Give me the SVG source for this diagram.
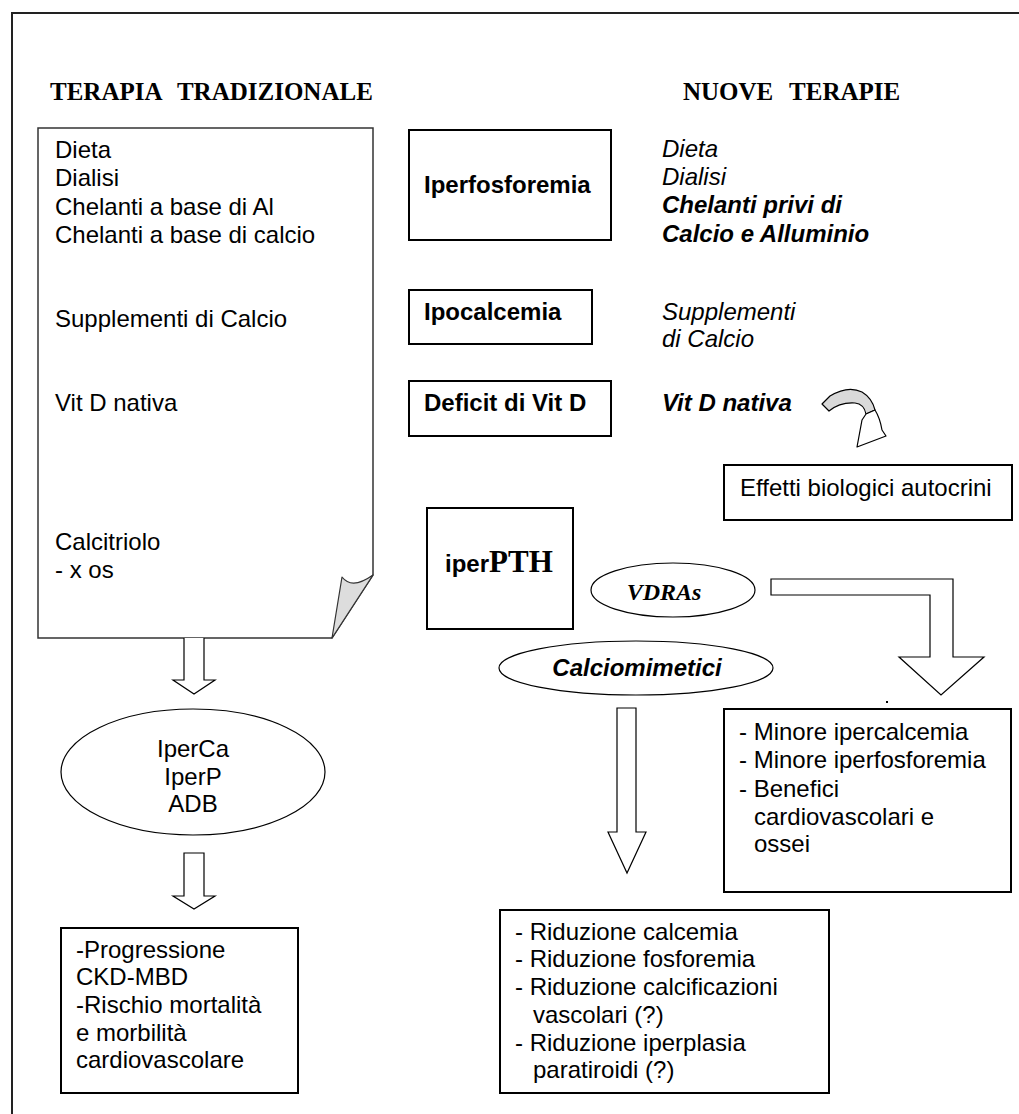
<svg xmlns="http://www.w3.org/2000/svg" width="1019" height="1114" viewBox="0 0 1019 1114">
<style>
.t{font-family:"Liberation Sans",Arial,sans-serif;font-size:24px;fill:#000}
.b{font-weight:bold}
.i{font-style:italic}
.h{font-family:"Liberation Serif","Times New Roman",serif;font-size:25px;font-weight:bold;word-spacing:10px;fill:#000}
.box{fill:#fff;stroke:#000;stroke-width:2}
.ell{fill:#fff;stroke:#000;stroke-width:1.2}
.blk{fill:#fff;stroke:#000;stroke-width:1.2;stroke-linejoin:miter}
</style>
<rect width="1019" height="1114" fill="#fff"/>
<g id="frame">
<path d="M12,1114 L12,13 L1019,13" fill="none" stroke="#222" stroke-width="2"/>
</g>
<g id="titles">
<text class="h" x="50" y="100">TERAPIA TRADIZIONALE</text>
<text class="h" x="683" y="100">NUOVE TERAPIE</text>
</g>
<g id="doc">
<path d="M38,128 L373,128 L373,575 L332,638 L38,638 Z" fill="#fff" stroke="#333" stroke-width="1.5"/>
<path d="M342,577 Q352,590 373,575 L332,638 Z" fill="#ddd" stroke="#333" stroke-width="1.2" stroke-linejoin="round"/>
<text class="t" x="55" y="158">Dieta</text>
<text class="t" x="55" y="186">Dialisi</text>
<text class="t" x="55" y="215">Chelanti a base di Al</text>
<text class="t" x="55" y="243">Chelanti a base di calcio</text>
<text class="t" x="55" y="327">Supplementi di Calcio</text>
<text class="t" x="55" y="411">Vit D nativa</text>
<text class="t" x="55" y="550">Calcitriolo</text>
<text class="t" x="55" y="578">- x os</text>
</g>
<g id="iperfosforemia">
<rect class="box" x="409" y="130" width="202" height="110"/>
<text class="t b" x="424" y="193">Iperfosforemia</text>
</g>
<g id="ipocalcemia">
<rect class="box" x="409" y="290" width="183" height="54"/>
<text class="t b" x="424" y="320">Ipocalcemia</text>
</g>
<g id="deficit">
<rect class="box" x="409" y="381" width="202" height="55"/>
<text class="t b" x="424" y="411">Deficit di Vit D</text>
</g>
<g id="nuove-fosforo">
<text class="t i" x="662" y="157">Dieta</text>
<text class="t i" x="662" y="185">Dialisi</text>
<text class="t i b" x="662" y="213">Chelanti privi di</text>
<text class="t i b" x="662" y="242">Calcio e Alluminio</text>
</g>
<g id="nuove-calcio">
<text class="t i" x="662" y="320">Supplementi</text>
<text class="t i" x="662" y="347">di Calcio</text>
</g>
<g id="nuove-vitd">
<text class="t i b" x="662" y="411">Vit D nativa</text>
</g>
<g id="effetti">
<rect class="box" x="724" y="465" width="288" height="55"/>
<text class="t" x="740" y="496">Effetti biologici autocrini</text>
</g>
<g id="iperpth">
<rect class="box" x="427" y="508" width="146" height="121"/>
<text x="445" y="572" fill="#000"><tspan font-family="Liberation Sans,Arial,sans-serif" font-weight="bold" font-size="24">iper</tspan><tspan font-family="Liberation Serif,Times New Roman,serif" font-weight="bold" font-size="31">PTH</tspan></text>
</g>
<g id="vdras">
<ellipse class="ell" cx="673" cy="590" rx="82" ry="27"/>
<text x="664" y="600" text-anchor="middle" font-family="Liberation Serif,Times New Roman,serif" font-weight="bold" font-style="italic" font-size="24" fill="#000">VDRAs</text>
</g>
<g id="calciomimetici">
<ellipse class="ell" cx="636" cy="668" rx="137" ry="27"/>
<text class="t b i" x="637" y="676" text-anchor="middle">Calciomimetici</text>
</g>
<g id="iperca">
<ellipse class="ell" cx="193" cy="772" rx="132" ry="63"/>
<text class="t" x="193" y="757" text-anchor="middle">IperCa</text>
<text class="t" x="193" y="785" text-anchor="middle">IperP</text>
<text class="t" x="193" y="812" text-anchor="middle">ADB</text>
</g>
<g id="progressione">
<rect class="box" x="61" y="928" width="237" height="165"/>
<text class="t" x="76" y="958">-Progressione</text>
<text class="t" x="76" y="985">CKD-MBD</text>
<text class="t" x="76" y="1013">-Rischio mortalità</text>
<text class="t" x="76" y="1041">e morbilità</text>
<text class="t" x="76" y="1068">cardiovascolare</text>
</g>
<g id="minore">
<rect class="box" x="724" y="709" width="287" height="183"/>
<text class="t" x="739" y="740">- Minore ipercalcemia</text>
<text class="t" x="739" y="768">- Minore iperfosforemia</text>
<text class="t" x="739" y="797">- Benefici</text>
<text class="t" x="754" y="825">cardiovascolari e</text>
<text class="t" x="754" y="852">ossei</text>
</g>
<g id="riduzione">
<rect class="box" x="500" y="910" width="329" height="183"/>
<text class="t" x="515" y="940">- Riduzione calcemia</text>
<text class="t" x="515" y="967">- Riduzione fosforemia</text>
<text class="t" x="515" y="995">- Riduzione calcificazioni</text>
<text class="t" x="533" y="1023">vascolari (?)</text>
<text class="t" x="515" y="1051">- Riduzione iperplasia</text>
<text class="t" x="533" y="1078">paratiroidi (?)</text>
</g>
<g id="connectors">
<path class="blk" d="M184,638 L184,680 L173,680 L194,694 L215,680 L204,680 L204,638"/>
<path class="blk" d="M184,853 L204,853 L204,896 L215,896 L194,909 L173,896 L184,896 Z"/>
<path class="blk" d="M617,708 L636,708 L636,832 L646,832 L627,873 L608,832 L617,832 Z"/>
<path class="blk" d="M771,579 L953,579 L953,657 L984,657 L941,695 L899,657 L930,657 L930,595 L771,595 Z"/>
<path d="M822,404 L830,396 Q848,385 862,392 Q872,398 875,410 L866,414 Q864,404 855,403 Q840,402 829,411 Z" fill="#d9d9d9" stroke="#000" stroke-width="1.2" stroke-linejoin="round"/>
<path d="M875,410 Q880,418 882,430 L886,436 L857,447 L862,420 L866,414 Z" fill="#fff" stroke="#000" stroke-width="1.2" stroke-linejoin="round"/>
<rect x="886" y="701" width="2" height="2" fill="#000"/>
</g>
</svg>
